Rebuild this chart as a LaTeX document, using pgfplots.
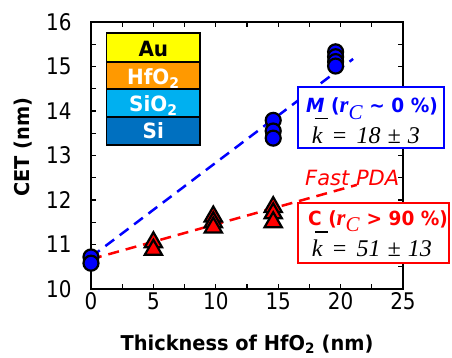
\documentclass[border=0pt]{standalone}
\usepackage{fontspec}
\setmainfont{DejaVu Sans}[FakeStretch=0.87]
\newfontfamily\bsf{DejaVu Sans}[FakeStretch=0.95]
\newfontfamily\isf{DejaVu Sans}
\newfontfamily\serifit{Liberation Serif}
\usepackage{pgfplots}
\pgfplotsset{compat=1.18}
\definecolor{mblue}{RGB}{0,0,255}
\definecolor{mred}{RGB}{255,0,0}
\definecolor{auyel}{RGB}{255,255,0}
\definecolor{hforange}{RGB}{255,153,0}
\definecolor{sicyan}{RGB}{0,176,240}
\definecolor{siblue}{RGB}{0,112,192}
\pgfplotstableread{
x y
0 10.72
0 10.58
14.6 13.79
14.6 13.55
14.6 13.39
19.6 15.33
19.6 15.22
19.6 15.11
19.6 15.01
}\circdata
\pgfplotstableread{
x y
5 11.05
5 10.88
9.8 11.63
9.8 11.50
9.8 11.38
14.6 11.84
14.6 11.70
14.6 11.50
}\tridata
\begin{document}
\begin{tikzpicture}
\begin{axis}[name=ax,
  scale only axis, width=312pt, height=267pt,
  xmin=0, xmax=25, ymin=10, ymax=16,
  xtick={0,5,...,25}, ytick={10,...,16},
  minor x tick num=1, minor y tick num=1,
  tick align=inside,
  major tick length=5pt, minor tick length=5pt,
  axis line style={line width=1.5pt},
  every tick/.style={black, line width=1.2pt},
  tick label style={font=\fontsize{22.9}{23}\selectfont},
  /pgf/number format/assume math mode=true,
  yticklabel shift=16pt,
  xlabel={Thickness of HfO\textsubscript{2} (nm)},
  ylabel={CET (nm)},
  xlabel style={font=\fontsize{20.4}{21}\bsf\bfseries, at={(rel axis cs:0.5,0)}, anchor=center, yshift=-55pt},
  ylabel style={font=\fontsize{20.4}{21}\bsf\bfseries, at={(rel axis cs:0,0.5)}, anchor=center, yshift=68pt, xshift=8.5pt},
  clip=false,
]
% layer stack
\draw[line width=1.5pt, fill=auyel] (axis cs:1.26,15.10) rectangle (axis cs:8.73,15.75);
\draw[line width=1.5pt, fill=hforange] (axis cs:1.26,14.49) rectangle (axis cs:8.73,15.10);
\draw[line width=1.5pt, fill=sicyan] (axis cs:1.26,13.87) rectangle (axis cs:8.73,14.49);
\draw[line width=1.5pt, fill=siblue] (axis cs:1.26,13.24) rectangle (axis cs:8.73,13.87);
\node[anchor=base, inner sep=0, font=\fontsize{21}{21}\bsf\bfseries] at (axis cs:4.996,15.229) {Au};
\node[anchor=base, inner sep=0, text=white, font=\fontsize{21}{21}\bsf\bfseries] at (axis cs:4.996,14.591) {HfO\textsubscript{2}};
\node[anchor=base, inner sep=0, text=white, font=\fontsize{21}{21}\bsf\bfseries] at (axis cs:4.996,13.993) {SiO\textsubscript{2}};
\node[anchor=base, inner sep=0, text=white, font=\fontsize{21}{21}\bsf\bfseries] at (axis cs:4.996,13.393) {Si};

\addplot[only marks, mark=*, mark size=7.5pt, mark options={fill=mblue, draw=black, line width=2.2pt}] table[x=x,y=y] {\circdata};
\addplot[only marks, mark=triangle*, mark size=10pt, mark options={fill=mred, draw=black, line width=2.2pt}] table[x=x,y=y] {\tridata};

\addplot[mblue, line width=2.5pt, dash pattern=on 11pt off 7pt] coordinates {(0,10.72) (21,15.17)};
\addplot[mred, line width=2.5pt, dash pattern=on 11pt off 7pt] coordinates {(0,10.67) (21.3,12.34)};

% boxes
\draw[mblue, line width=2pt, fill=white] (axis cs:16.61,13.175) rectangle (axis cs:28.29,14.546);
\draw[mred, line width=2pt, fill=white] (axis cs:16.61,10.578) rectangle (axis cs:28.68,11.939);
\node[anchor=base west, inner sep=0, text=mblue, font=\fontsize{19.5}{20}\bsf\bfseries] at (axis cs:17.23,13.962)
  {{\itshape M} ({\fontsize{23}{23}\serifit\bfseries\itshape r}\textsubscript{\fontsize{21}{21}\serifit\mdseries\itshape C} \textasciitilde{} 0 \%)};
\node[anchor=base west, inner sep=0, font=\fontsize{24}{24}\serifit\itshape] at (axis cs:17.68,13.274)
  {\hspace*{3pt}\rlap{\raisebox{24pt}{\rule{13pt}{1.3pt}}}\hspace*{-3pt}k\hspace{9pt}=\hspace{9pt}18\hspace{7pt}±\hspace{7pt}3};
\node[anchor=base west, inner sep=0, text=mred, font=\fontsize{19.5}{20}\bsf\bfseries] at (axis cs:17.39,11.438)
  {C ({\fontsize{23}{23}\serifit\bfseries\itshape r}\textsubscript{\fontsize{21}{21}\serifit\mdseries\itshape C} > 90 \%)};
\node[anchor=base west, inner sep=0, font=\fontsize{24}{24}\serifit\itshape] at (axis cs:17.68,10.726)
  {\hspace*{3pt}\rlap{\raisebox{24pt}{\rule{13pt}{1.3pt}}}\hspace*{-3pt}k\hspace{9pt}=\hspace{9pt}51\hspace{7pt}±\hspace{7pt}13};
\node[anchor=base west, inner sep=0, text=mred, font=\fontsize{21}{21}\isf\itshape] at (axis cs:17.15,12.337) {Fast PDA};
\end{axis}
\pgfresetboundingbox
\path ([shift={(-91pt,-69pt)}]ax.south west) rectangle ([shift={(49pt,22pt)}]ax.north east);
\end{tikzpicture}
\end{document}
